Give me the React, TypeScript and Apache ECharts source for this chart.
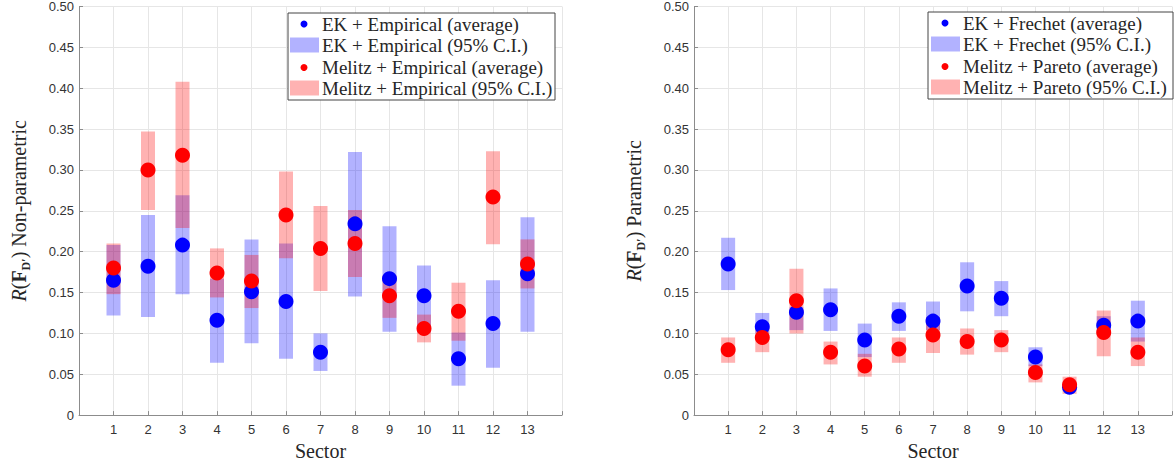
import React, { useEffect, useRef } from "react";
import * as echarts from "echarts";

const sectors = [1, 2, 3, 4, 5, 6, 7, 8, 9, 10, 11, 12, 13];

// Left panel: non-parametric
const leftEkAvg = [0.165, 0.182, 0.208, 0.116, 0.151, 0.139, 0.077, 0.234, 0.167, 0.146, 0.069, 0.112, 0.173];
const leftEkLo = [0.122, 0.120, 0.148, 0.064, 0.088, 0.069, 0.054, 0.145, 0.102, 0.101, 0.036, 0.058, 0.102];
const leftEkHi = [0.208, 0.245, 0.269, 0.167, 0.215, 0.210, 0.100, 0.322, 0.231, 0.183, 0.101, 0.165, 0.242];
const leftMelAvg = [0.180, 0.300, 0.318, 0.174, 0.164, 0.245, 0.204, 0.210, 0.146, 0.106, 0.127, 0.267, 0.185];
const leftMelLo = [0.148, 0.251, 0.229, 0.144, 0.131, 0.192, 0.152, 0.169, 0.119, 0.089, 0.091, 0.209, 0.155];
const leftMelHi = [0.210, 0.347, 0.408, 0.204, 0.196, 0.298, 0.256, 0.251, 0.171, 0.123, 0.162, 0.323, 0.215];

// Right panel: parametric
const rightEkAvg = [0.185, 0.108, 0.126, 0.129, 0.092, 0.121, 0.115, 0.158, 0.143, 0.071, 0.034, 0.110, 0.115];
const rightEkLo = [0.153, 0.100, 0.104, 0.103, 0.071, 0.103, 0.104, 0.127, 0.121, 0.060, 0.031, 0.102, 0.090];
const rightEkHi = [0.217, 0.125, 0.132, 0.155, 0.112, 0.138, 0.139, 0.187, 0.164, 0.083, 0.037, 0.121, 0.140];
const rightMelAvg = [0.080, 0.095, 0.140, 0.077, 0.060, 0.081, 0.098, 0.090, 0.092, 0.052, 0.037, 0.101, 0.077];
const rightMelLo = [0.064, 0.077, 0.100, 0.062, 0.047, 0.064, 0.076, 0.074, 0.077, 0.040, 0.026, 0.072, 0.060];
const rightMelHi = [0.095, 0.108, 0.179, 0.090, 0.075, 0.095, 0.120, 0.106, 0.104, 0.062, 0.047, 0.128, 0.095];

const leftLegend = [
  "EK + Empirical (average)",
  "EK + Empirical (95% C.I.)",
  "Melitz + Empirical (average)",
  "Melitz + Empirical (95% C.I.)",
];
const rightLegend = [
  "EK + Frechet (average)",
  "EK + Frechet (95% C.I.)",
  "Melitz + Pareto (average)",
  "Melitz + Pareto (95% C.I.)",
];

const SERIF = "Liberation Serif";
const SANS = "Liberation Sans";
const BLUE = "#0000ff";
const RED = "#ff0000";
const BLUE_CI = "rgba(0,0,255,0.3)";
const RED_CI = "rgba(255,0,0,0.3)";

function ciSeries(idx: number, lo: number[], hi: number[], color: string) {
  return {
    type: "custom",
    xAxisIndex: idx,
    yAxisIndex: idx,
    data: sectors.map((s, i) => [s, lo[i], hi[i]]),
    encode: { x: 0, y: [1, 2] },
    renderItem: (params: any, api: any) => {
      const x = api.value(0);
      const top = api.coord([x, api.value(2)]);
      const bot = api.coord([x, api.value(1)]);
      const w = 14;
      return {
        type: "rect",
        shape: { x: top[0] - w / 2, y: top[1], width: w, height: bot[1] - top[1] },
        style: { fill: color },
      };
    },
    silent: true,
  };
}

function dotSeries(idx: number, vals: number[], color: string) {
  return {
    type: "scatter",
    xAxisIndex: idx,
    yAxisIndex: idx,
    data: sectors.map((s, i) => [s, vals[i]]),
    symbol: "circle",
    symbolSize: 15,
    itemStyle: { color, opacity: 1 },
    silent: true,
  };
}

function xAxis(idx: number) {
  return {
    type: "value",
    gridIndex: idx,
    min: 0,
    max: 14,
    interval: 1,
    name: "Sector",
    nameLocation: "middle",
    nameGap: 22,
    nameTextStyle: { fontFamily: SERIF, fontSize: 20, color: "#262626" },
    axisLine: { show: true, lineStyle: { color: "#8c8c8c", width: 1 } },
    axisTick: { show: true, inside: true, length: 4, lineStyle: { color: "#8c8c8c" } },
    axisLabel: {
      margin: 8,
      fontFamily: SANS,
      fontSize: 13,
      color: "#333",
      formatter: (v: number) => (v >= 1 && v <= 13 ? String(v) : ""),
    },
    splitLine: { show: true, lineStyle: { color: "#e6e6e6", width: 1 } },
  };
}

function yAxis(idx: number, label: string) {
  return {
    type: "value",
    gridIndex: idx,
    min: 0,
    max: 0.5,
    interval: 0.05,
    name: `{i|R}{n|(}{b|F}{s|D′}{n|) ${label}}`,
    nameLocation: "middle",
    nameGap: 50,
    nameTextStyle: {
      fontFamily: SERIF,
      fontSize: 20,
      color: "#262626",
      rich: {
        i: { fontFamily: SERIF, fontSize: 20, fontStyle: "italic", color: "#262626" },
        n: { fontFamily: SERIF, fontSize: 20, color: "#262626" },
        b: { fontFamily: SERIF, fontSize: 20, fontWeight: "bold", color: "#262626" },
        s: { fontFamily: SERIF, fontSize: 12, fontWeight: "bold", color: "#262626", verticalAlign: "bottom", padding: [0, 0, -3, 0] },
      },
    },
    axisLine: { show: true, lineStyle: { color: "#8c8c8c", width: 1 } },
    axisTick: { show: true, inside: true, length: 4, lineStyle: { color: "#8c8c8c" } },
    axisLabel: {
      margin: 5,
      fontFamily: SANS,
      fontSize: 13,
      color: "#333",
      formatter: (v: number) => (Math.abs(v) < 1e-9 ? "0" : v.toFixed(2)),
    },
    splitLine: { show: true, lineStyle: { color: "#e6e6e6", width: 1 } },
  };
}

function legendGraphic(x: number, y: number, w: number, h: number, labels: string[], iconDx: number) {
  const rowY = [11, 32, 54.5, 75];
  const Z = 100;
  const children: any[] = [
    {
      type: "rect",
      z: Z,
      shape: { x: 0, y: 0, width: w, height: h },
      style: { fill: "#ffffff", stroke: "#444444", lineWidth: 1 },
    },
  ];
  labels.forEach((lab, i) => {
    const isDot = i % 2 === 0;
    const col = i < 2 ? (isDot ? BLUE : BLUE_CI) : isDot ? RED : RED_CI;
    if (isDot) {
      children.push({
        type: "circle",
        z: Z + 1,
        shape: { cx: iconDx + 16, cy: rowY[i], r: 3.5 },
        style: { fill: col },
      });
    } else {
      children.push({
        type: "rect",
        z: Z + 1,
        shape: { x: iconDx + 2, y: rowY[i] - 7.5, width: 29, height: 15 },
        style: { fill: col },
      });
    }
    children.push({
      type: "text",
      z: Z + 1,
      x: iconDx + 34,
      y: rowY[i],
      style: {
        text: lab,
        fontFamily: SERIF,
        fontSize: 19,
        fill: "#262626",
        verticalAlign: "middle",
        align: "left",
      },
    });
  });
  return { type: "group", x, y, z: Z, children };
}

export default function App() {
  const ref = useRef<HTMLDivElement>(null);
  useEffect(() => {
    if (!ref.current) return;
    const chart = echarts.init(ref.current, null, { renderer: "svg" });
    chart.setOption({
      animation: false,
      backgroundColor: "#ffffff",
      grid: [
        { left: 79, top: 5, width: 483, height: 413 },
        { left: 694, top: 5, width: 483, height: 413 },
      ],
      xAxis: [xAxis(0), xAxis(1)],
      yAxis: [yAxis(0, "Non-parametric"), yAxis(1, "Parametric")],
      series: [
        ciSeries(0, leftEkLo, leftEkHi, BLUE_CI),
        dotSeries(0, leftEkAvg, BLUE),
        ciSeries(0, leftMelLo, leftMelHi, RED_CI),
        dotSeries(0, leftMelAvg, RED),
        ciSeries(1, rightEkLo, rightEkHi, BLUE_CI),
        dotSeries(1, rightEkAvg, BLUE),
        ciSeries(1, rightMelLo, rightMelHi, RED_CI),
        dotSeries(1, rightMelAvg, RED),
      ],
      graphic: [
        legendGraphic(288, 13, 267, 87, leftLegend, 0),
        legendGraphic(928, 12, 245, 87, rightLegend, 1),
      ],
    });
    return () => chart.dispose();
  }, []);
  return (
    <div
      ref={ref}
      style={{ position: "absolute", left: 0, top: 0, width: 1175, height: 466 }}
    />
  );
}
